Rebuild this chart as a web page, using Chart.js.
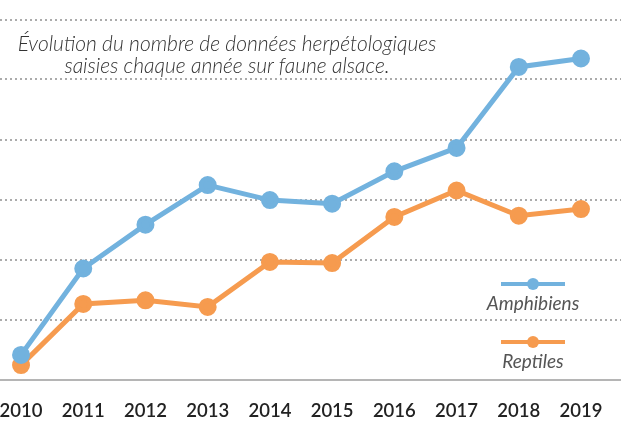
<!DOCTYPE html>
<html>
<head>
<meta charset="utf-8">
<script src="https://cdn.jsdelivr.net/npm/chart.js@4/dist/chart.umd.min.js"></script>
<style>
  html, body { margin: 0; padding: 0; background: #fff; }
  #wrap { position: relative; width: 621px; height: 422px; overflow: hidden; }
  #titre { position: absolute; left: 7px; top: 32px; width: 440px; text-align: center;
    font: italic 300 21px Lato, sans-serif; color: #333; line-height: 22px; white-space: nowrap; }
  .leg { position: absolute; width: 110px; text-align: center; font: italic 19px Lato, sans-serif; color: #555; line-height: 22px; }
  .leg .mark { position: relative; width: 64px; height: 4px; margin: 0 auto 6px; }
  .leg .mark span { position: absolute; left: 26px; top: -4px; width: 12px; height: 12px; border-radius: 50%; }
</style>
</head>
<body>
<div id="wrap">
  <canvas id="evol" width="621" height="422"></canvas>
  <div id="titre">Évolution du nombre de données herpétologiques<br>saisies chaque année sur faune alsace.</div>
  <div class="leg" style="left:478px; top:282px;"><div class="mark" style="background:#72b2de"><span style="background:#72b2de"></span></div>Amphibiens</div>
  <div class="leg" style="left:478px; top:340px;"><div class="mark" style="background:#f69b4f"><span style="background:#f69b4f"></span></div>Reptiles</div>
</div>
<script>
const annees = [2010, 2011, 2012, 2013, 2014, 2015, 2016, 2017, 2018, 2019];
// valeurs (1 unité = 1 ligne de grille)
const amphibiens = [0.41, 1.85, 2.58, 3.24, 2.99, 2.93, 3.47, 3.86, 5.21, 5.35];
const reptiles = [0.24, 1.26, 1.32, 1.21, 1.96, 1.94, 2.71, 3.15, 2.73, 2.84];

const bleu = '#72b2de';
const orange = '#f69b4f';

const pts = arr => arr.map((v, i) => ({ x: annees[i], y: v }));

new Chart(document.getElementById('evol'), {
  type: 'line',
  data: {
    datasets: [
      { label: 'Amphibiens', data: pts(amphibiens), borderColor: bleu, backgroundColor: bleu, borderWidth: 5, pointRadius: 6.5, pointHoverRadius: 6.5, tension: 0, clip: false },
      { label: 'Reptiles', data: pts(reptiles), borderColor: orange, backgroundColor: orange, borderWidth: 5, pointRadius: 6.5, pointHoverRadius: 6.5, tension: 0, clip: false },
    ]
  },
  options: {
    responsive: false,
    animation: false,
    layout: { autoPadding: false, padding: { top: 19.5, left: 0, right: 0, bottom: 0 } },
    plugins: { legend: { display: false }, tooltip: { enabled: false } },
    scales: {
      x: {
        type: 'linear', min: 2009.662, max: 2019.643,
        afterBuildTicks: s => { s.ticks = annees.map(v => ({ value: v })); },
        afterFit: s => { s.paddingLeft = 0; s.paddingRight = 0; s.height = 42.5; },
        ticks: { autoSkip: false, maxRotation: 0, padding: 20, color: '#222', font: { family: 'Lato', size: 18.5, weight: '600' }, callback: v => String(v) },
        grid: { display: false, drawTicks: false },
        border: { display: true, color: '#b5b5b5', width: 2 }
      },
      y: {
        min: 0, max: 6,
        afterBuildTicks: s => { s.ticks = [1, 2, 3, 4, 5, 6].map(v => ({ value: v })); },
        ticks: { display: false },
        grid: { color: '#ababab', lineWidth: 2, drawTicks: false },
        border: { display: false, dash: [2, 3] }
      }
    }
  }
});
</script>
</body>
</html>
